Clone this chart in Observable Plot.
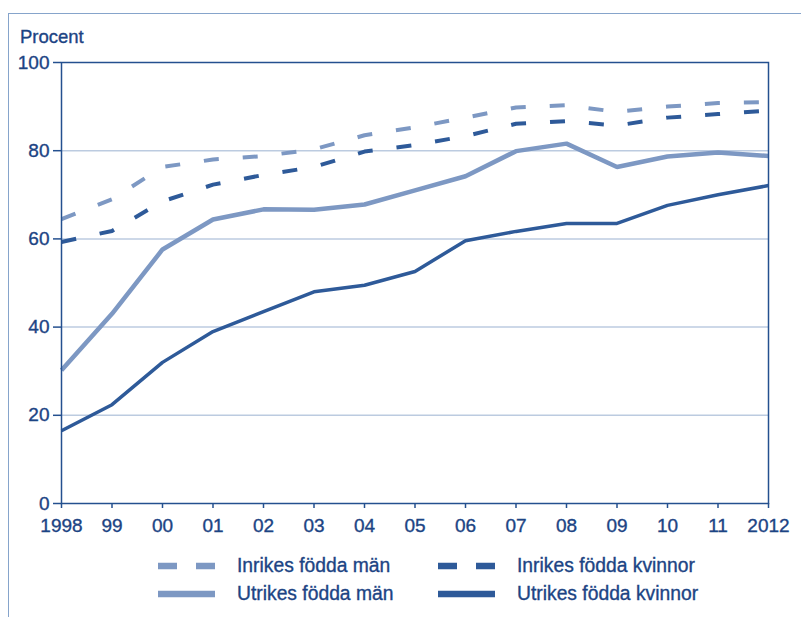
<!DOCTYPE html>
<html>
<head>
<meta charset="utf-8">
<script src="https://cdn.jsdelivr.net/npm/d3@7"></script>
<script src="https://cdn.jsdelivr.net/npm/@observablehq/plot@0.6"></script>
<style>
  html, body { margin: 0; padding: 0; background: #fff; overflow: hidden; }
  body { width: 801px; height: 617px; position: relative; font-family: "Liberation Sans", Arial, sans-serif; color: #1c4484; }
  #frame { position: absolute; left: 8px; top: 13px; width: 900px; height: 700px; border-left: 1.5px solid #86a4cb; border-top: 1.5px solid #86a4cb; }
  #chart { position: absolute; left: 0; top: 0; }
  #ylabel { position: absolute; left: 20px; top: 28px; font-size: 18.5px; line-height: 1; -webkit-text-stroke: 0.35px #1c4484; }
  .leg { position: absolute; font-size: 19.3px; line-height: 1; display: flex; align-items: center; -webkit-text-stroke: 0.35px #1c4484; }
  .leg svg { margin-right: 22px; }
  #chart svg text { stroke: #1c4484; stroke-width: 0.35px; }
</style>
</head>
<body>
<div id="frame"></div>
<div id="chart"></div>
<div id="ylabel">Procent</div>
<div id="legend"></div>
<script>
const years = [1998, 1999, 2000, 2001, 2002, 2003, 2004, 2005, 2006, 2007, 2008, 2009, 2010, 2011, 2012];
const xTickLabels = ["1998", "99", "00", "01", "02", "03", "04", "05", "06", "07", "08", "09", "10", "11", "2012"];
const yTicks = [0, 20, 40, 60, 80, 100];

const inrikesMan = [64.5, 69, 76.3, 78, 78.8, 80.3, 83.5, 85.3, 87.5, 89.8, 90.3, 88.8, 90, 90.8, 91];
const inrikesKvinnor = [59.3, 61.8, 68.5, 72.3, 74.5, 76.3, 79.8, 81.3, 83.3, 86.1, 86.7, 85.7, 87.5, 88.3, 89.1];
const utrikesMan = [30.2, 43, 57.6, 64.4, 66.7, 66.6, 67.8, 71, 74.2, 79.9, 81.6, 76.3, 78.7, 79.6, 78.8];
const utrikesKvinnor = [16.5, 22.4, 32, 39, 43.5, 48, 49.5, 52.6, 59.6, 61.7, 63.5, 63.5, 67.6, 70, 72.1];

const seriesNames = ["Inrikes födda män", "Inrikes födda kvinnor", "Utrikes födda män", "Utrikes födda kvinnor"];

const LIGHT = "#7d98c3";
const DARK = "#2e5a99";
const AXIS = "#24508f";
const GRID = "#bccbe0";
const TEXT = "#1c4484";

const styles = {
  "Inrikes födda män": {stroke: LIGHT, strokeWidth: 4, dash: "15,24"},
  "Inrikes födda kvinnor": {stroke: DARK, strokeWidth: 4, dash: "15,24"},
  "Utrikes födda män": {stroke: LIGHT, strokeWidth: 4.5, dash: null},
  "Utrikes födda kvinnor": {stroke: DARK, strokeWidth: 3.5, dash: null}
};

const seriesValues = [inrikesMan, inrikesKvinnor, utrikesMan, utrikesKvinnor];
const data = seriesNames.map((name, i) => years.map((year, j) => ({name, year, value: seriesValues[i][j]})));

const lineMarks = seriesNames.map((name, i) => Plot.line(data[i], {
  x: "year", y: "value",
  stroke: styles[name].stroke,
  strokeWidth: styles[name].strokeWidth,
  strokeDasharray: styles[name].dash,
  strokeLinejoin: "miter",
  strokeLinecap: "butt"
}));

const chart = Plot.plot({
  width: 801,
  height: 545,
  marginLeft: 61,
  marginRight: 33,
  marginTop: 62,
  marginBottom: 42,
  style: {fontFamily: "'Liberation Sans', Arial, sans-serif", color: AXIS, background: "transparent"},
  x: {domain: [1998, 2012]},
  y: {domain: [0, 100]},
  marks: [
    Plot.gridY([20, 40, 60, 80], {stroke: GRID, strokeOpacity: 1, strokeWidth: 1.5}),
    ...lineMarks,
    Plot.frame({stroke: AXIS, strokeWidth: 1.5}),
    Plot.axisY(yTicks, {tickSize: 8, tickPadding: 4, fontSize: 19, label: null, stroke: AXIS, strokeWidth: 1.5, fill: TEXT}),
    Plot.axisX(years, {tickSize: 5, tickPadding: 10, fontSize: 19, label: null, stroke: AXIS, strokeWidth: 1.5, fill: TEXT,
      tickFormat: (d) => xTickLabels[years.indexOf(d)]})
  ]
});
document.getElementById("chart").appendChild(chart);

// Legend
const legendPos = [
  {left: 158, top: 556},
  {left: 438, top: 556},
  {left: 158, top: 584},
  {left: 438, top: 584}
];
const legend = document.getElementById("legend");
seriesNames.forEach((name, i) => {
  const s = styles[name];
  const div = document.createElement("div");
  div.className = "leg";
  div.style.left = legendPos[i].left + "px";
  div.style.top = legendPos[i].top + "px";
  const ns = "http://www.w3.org/2000/svg";
  const svg = document.createElementNS(ns, "svg");
  svg.setAttribute("width", 57);
  svg.setAttribute("height", 18);
  const ln = document.createElementNS(ns, "line");
  ln.setAttribute("x1", 0); ln.setAttribute("x2", 57);
  ln.setAttribute("y1", 9); ln.setAttribute("y2", 9);
  ln.setAttribute("stroke", s.stroke);
  ln.setAttribute("stroke-width", 6.5);
  if (s.dash) ln.setAttribute("stroke-dasharray", "19,19");
  svg.appendChild(ln);
  div.appendChild(svg);
  const span = document.createElement("span");
  span.textContent = name;
  div.appendChild(span);
  legend.appendChild(div);
});
</script>
</body>
</html>
